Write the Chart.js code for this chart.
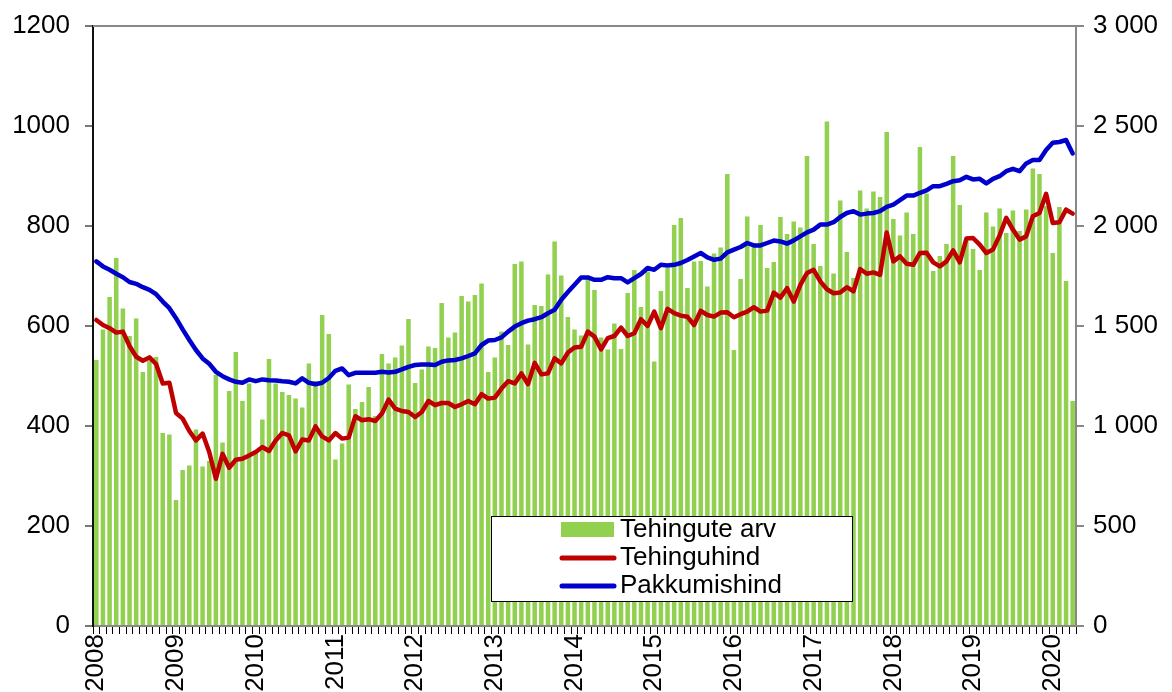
<!DOCTYPE html>
<html>
<head>
<meta charset="utf-8">
<script src="https://cdn.jsdelivr.net/npm/chart.js@4.4.1/dist/chart.umd.min.js"></script>
<style>
  html, body { margin: 0; padding: 0; background: #fff; }
  #wrap { width: 1172px; height: 692px; position: relative; }
</style>
</head>
<body>
<div id="wrap"><canvas id="chart"></canvas></div>
<script>
// ===== Data =====
const years = [2008, 2009, 2010, 2011, 2012, 2013, 2014, 2015, 2016, 2017, 2018, 2019, 2020];
const lastYearMonths = 4;

// Tehingute arv (left axis), monthly
const dealCount = [
  532, 593, 658, 736, 635, 580, 615, 508, 530, 538, 386, 383,
  252, 312, 321, 393, 319, 330, 502, 367, 470, 548, 450, 485,
  350, 413, 534, 485, 468, 462, 455, 437, 525, 490, 622, 584,
  333, 365, 483, 434, 448, 478, 420, 544, 525, 537, 561, 614,
  486, 513, 559, 556, 646, 577, 587, 660, 649, 662, 685, 508,
  537, 589, 562, 724, 729, 563, 642, 640, 703, 769, 701, 618,
  593, 581, 700, 672, 577, 553, 605, 554, 666, 712, 638, 709,
  529, 670, 716, 802, 816, 676, 729, 730, 679, 745, 757, 904,
  552, 694, 819, 765, 802, 716, 728, 818, 784, 809, 797, 940,
  764, 720, 1009, 705, 851, 748, 696, 871, 835, 869, 858, 988,
  814, 781, 827, 784, 958, 865, 710, 740, 764, 940, 842, 770,
  754, 712, 827, 799, 835, 786, 831, 790, 833, 915, 904, 840,
  746, 838, 690, 450
];

// Tehinguhind (right axis)
const dealPrice = [
  1530, 1505, 1489, 1467, 1472, 1400, 1346, 1326, 1343, 1310, 1213, 1216,
  1065, 1037, 975, 928, 962, 870, 736, 861, 791, 831, 836, 853,
  870, 895, 875, 928, 965, 953, 873, 932, 928, 998, 948, 928,
  965, 937, 942, 1049, 1029, 1034, 1025, 1062, 1132, 1087, 1075, 1070,
  1045, 1070, 1125, 1104, 1115, 1115, 1095, 1109, 1125, 1109, 1159, 1137,
  1142, 1187, 1224, 1213, 1263, 1209, 1316, 1258, 1263, 1338, 1313, 1367,
  1393, 1396, 1472, 1447, 1383, 1439, 1450, 1492, 1450, 1464, 1534, 1500,
  1572, 1489, 1586, 1564, 1552, 1546, 1505, 1576, 1555, 1547, 1567, 1569,
  1544, 1559, 1572, 1594, 1572, 1577, 1667, 1642, 1689, 1622, 1706, 1765,
  1781, 1723, 1684, 1664, 1667, 1694, 1673, 1785, 1761, 1768, 1756, 1968,
  1823, 1848, 1811, 1806, 1865, 1866, 1818, 1798, 1823, 1878, 1818, 1937,
  1940, 1907, 1865, 1882, 1953, 2041, 1982, 1932, 1948, 2049, 2065, 2161,
  2015, 2019, 2082, 2062
];

// Pakkumishind (right axis)
const askPrice = [
  1823, 1798, 1781, 1761, 1744, 1720, 1711, 1694, 1681, 1659, 1622, 1589,
  1539, 1483, 1430, 1380, 1338, 1311, 1271, 1249, 1233, 1221, 1216, 1233,
  1224, 1233, 1229, 1228, 1224, 1221, 1213, 1238, 1216, 1209, 1216, 1240,
  1276, 1288, 1254, 1266, 1266, 1266, 1266, 1271, 1268, 1271, 1283, 1296,
  1305, 1308, 1308, 1305, 1321, 1328, 1330, 1338, 1350, 1363, 1405, 1427,
  1430, 1443, 1472, 1497, 1514, 1527, 1534, 1544, 1564, 1581, 1631, 1670,
  1706, 1743, 1743, 1731, 1731, 1744, 1739, 1739, 1718, 1739, 1760, 1790,
  1781, 1806, 1803, 1806, 1815, 1830, 1848, 1865, 1843, 1831, 1837, 1868,
  1882, 1895, 1915, 1903, 1903, 1915, 1927, 1923, 1912, 1928, 1948, 1968,
  1982, 2007, 2007, 2019, 2045, 2065, 2074, 2057, 2062, 2065, 2074, 2096,
  2107, 2129, 2152, 2152, 2166, 2178, 2199, 2199, 2211, 2224, 2229, 2246,
  2233, 2236, 2213, 2236, 2249, 2274, 2286, 2274, 2313, 2330, 2330, 2380,
  2416, 2420, 2430, 2363
];

const seriesNames = ['Tehingute arv', 'Tehinguhind', 'Pakkumishind'];

// month labels, e.g. "2008-01"
const months = [];
years.forEach((y, i) => {
  const n = i === years.length - 1 ? lastYearMonths : 12;
  for (let m = 1; m <= n; m++) months.push(y + '-' + String(m).padStart(2, '0'));
});

// ===== Styling =====
const FONT = 'Liberation Sans, Arial, sans-serif';
const GREEN = '#92D050';
const RED = '#C00000';
const BLUE = '#0000CC';
const tickFont = { family: FONT, size: 26, lineHeight: 0.8 };

// fixed plot frame
const fitWidth = (w) => (scale) => { scale.width = w; };

// top border + legend box inside the plot
const frameAndLegend = {
  id: 'frameAndLegend',
  afterDraw(chart) {
    const { ctx, chartArea } = chart;
    ctx.save();
    ctx.strokeStyle = '#888';
    ctx.lineWidth = 2;
    ctx.beginPath();
    ctx.moveTo(chartArea.left, chartArea.top);
    ctx.lineTo(chartArea.right, chartArea.top);
    ctx.stroke();

    // legend
    const bx = 491.5, by = 516.5, bw = 361, bh = 85;
    ctx.fillStyle = '#fff';
    ctx.fillRect(bx, by, bw, bh);
    ctx.strokeStyle = '#000';
    ctx.lineWidth = 1;
    ctx.strokeRect(bx, by, bw, bh);

    const rows = [529, 557, 585];
    ctx.font = '26px ' + FONT;
    ctx.textBaseline = 'middle';
    ctx.textAlign = 'left';
    chart.data.datasets.forEach((ds, i) => {
      const y = rows[i];
      if (ds.type === 'line') {
        ctx.strokeStyle = ds.borderColor;
        ctx.lineWidth = 5;
        ctx.lineCap = 'round';
        ctx.beginPath();
        ctx.moveTo(562, y + 1);
        ctx.lineTo(614, y + 1);
        ctx.stroke();
      } else {
        ctx.fillStyle = ds.backgroundColor;
        ctx.fillRect(561, y - 7, 53, 15);
      }
      ctx.fillStyle = '#000';
      ctx.fillText(ds.label, 620, y + 1);
    });
    ctx.restore();
  }
};

// ===== Chart =====
const ctx = document.getElementById('chart').getContext('2d');
new Chart(ctx, {
  type: 'bar',
  data: {
    labels: months,
    datasets: [
      {
        label: seriesNames[0],
        data: dealCount,
        backgroundColor: GREEN,
        yAxisID: 'y',
        barPercentage: 0.68,
        categoryPercentage: 1.0,
        order: 3,
      },
      {
        label: seriesNames[1],
        type: 'line',
        data: dealPrice,
        borderColor: RED,
        borderWidth: 4.5,
        pointRadius: 0,
        tension: 0,
        borderJoinStyle: 'round',
        borderCapStyle: 'round',
        yAxisID: 'y2',
        order: 2,
      },
      {
        label: seriesNames[2],
        type: 'line',
        data: askPrice,
        borderColor: BLUE,
        borderWidth: 4.5,
        pointRadius: 0,
        tension: 0,
        borderJoinStyle: 'round',
        borderCapStyle: 'round',
        yAxisID: 'y2',
        order: 1,
      },
    ],
  },
  options: {
    responsive: true,
    maintainAspectRatio: false,
    animation: false,
    layout: { padding: { top: 26, left: 0, right: 0, bottom: 0 } },
    plugins: {
      legend: { display: false },
      tooltip: { enabled: false },
    },
    scales: {
      x: {
        offset: true,
        afterFit: (scale) => { scale.height = 66; },
        border: { display: true, color: '#888', width: 2 },
        grid: { drawOnChartArea: false, drawTicks: true, tickLength: 8, color: '#000', lineWidth: 1 },
        ticks: {
          autoSkip: false,
          maxRotation: 90,
          minRotation: 90,
          padding: 0,
          color: '#000',
          font: { family: FONT, size: 26 },
          callback: function (value, index) {
            return index % 12 === 0 ? months[index].slice(0, 4) : '';
          },
        },
      },
      y: {
        position: 'left',
        min: 0,
        max: 1200,
        afterFit: fitWidth(93),
        border: { display: true, color: '#111', width: 2 },
        grid: { drawOnChartArea: false, drawTicks: true, tickLength: 8, color: '#777', lineWidth: 2 },
        ticks: {
          stepSize: 200,
          padding: 15,
          color: '#000',
          font: tickFont,
          callback: (v) => String(v),
        },
      },
      y2: {
        position: 'right',
        min: 0,
        max: 3000,
        afterFit: fitWidth(96),
        border: { display: true, color: '#888', width: 2 },
        grid: { drawOnChartArea: false, drawTicks: true, tickLength: 8, color: '#888', lineWidth: 2 },
        ticks: {
          stepSize: 500,
          padding: 9,
          color: '#000',
          font: tickFont,
          callback: (v) => (v >= 1000 ? Math.floor(v / 1000) + ' ' + String(v % 1000).padStart(3, '0') : String(v)),
        },
      },
    },
  },
  plugins: [frameAndLegend],
});
</script>
</body>
</html>
